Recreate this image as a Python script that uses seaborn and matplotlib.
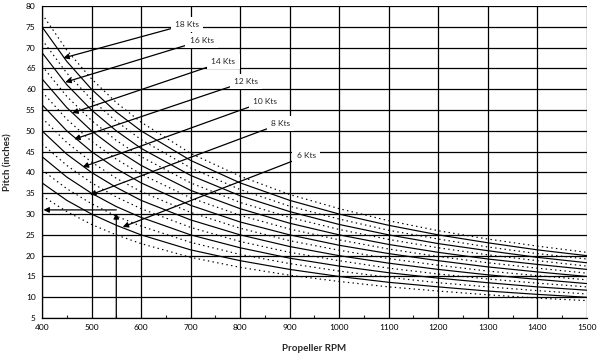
import seaborn as sns
import matplotlib.pyplot as plt
import pandas as pd

# propeller RPM sample points
rpm = [400, 450, 500, 550, 600, 700, 800, 900, 1000, 1100, 1200, 1300, 1400, 1500]

# solid curves (one per speed label), pitch in inches
solid_names = ['18 Kts', '16 Kts', '14 Kts', '12 Kts', '10 Kts', '8 Kts', '6 Kts']
solid_18 = [75.0, 66.7, 60.0, 54.5, 50.0, 42.9, 37.5, 33.3, 30.0, 27.3, 25.0, 23.1, 21.4, 20.0]
solid_16 = [68.8, 61.1, 55.0, 50.0, 45.8, 39.3, 34.4, 30.6, 27.5, 25.0, 22.9, 21.2, 19.6, 18.3]
solid_14 = [62.5, 55.6, 50.0, 45.5, 41.7, 35.7, 31.3, 27.8, 25.0, 22.7, 20.8, 19.2, 17.9, 16.7]
solid_12 = [56.3, 50.0, 45.0, 40.9, 37.5, 32.1, 28.1, 25.0, 22.5, 20.5, 18.8, 17.3, 16.1, 15.0]
solid_10 = [50.0, 44.4, 40.0, 36.4, 33.3, 28.6, 25.0, 22.2, 20.0, 18.2, 16.7, 15.4, 14.3, 13.3]
solid_8 = [43.8, 38.9, 35.0, 31.8, 29.2, 25.0, 21.9, 19.4, 17.5, 15.9, 14.6, 13.5, 12.5, 11.7]
solid_6 = [37.5, 33.3, 30.0, 27.3, 25.0, 21.4, 18.8, 16.7, 15.0, 13.6, 12.5, 11.5, 10.7, 10.0]

# dotted curves in between
dot_1 = [78.1, 69.4, 62.5, 56.8, 52.1, 44.6, 39.1, 34.7, 31.3, 28.4, 26.0, 24.0, 22.3, 20.8]
dot_2 = [71.9, 63.9, 57.5, 52.3, 47.9, 41.1, 35.9, 31.9, 28.8, 26.1, 24.0, 22.1, 20.5, 19.2]
dot_3 = [65.6, 58.3, 52.5, 47.7, 43.8, 37.5, 32.8, 29.2, 26.3, 23.9, 21.9, 20.2, 18.8, 17.5]
dot_4 = [59.4, 52.8, 47.5, 43.2, 39.6, 33.9, 29.7, 26.4, 23.8, 21.6, 19.8, 18.3, 17.0, 15.8]
dot_5 = [53.1, 47.2, 42.5, 38.6, 35.4, 30.4, 26.6, 23.6, 21.3, 19.3, 17.7, 16.3, 15.2, 14.2]
dot_6 = [46.9, 41.7, 37.5, 34.1, 31.3, 26.8, 23.4, 20.8, 18.8, 17.0, 15.6, 14.4, 13.4, 12.5]
dot_7 = [40.6, 36.1, 32.5, 29.5, 27.1, 23.2, 20.3, 18.1, 16.3, 14.8, 13.5, 12.5, 11.6, 10.8]
dot_8 = [34.4, 30.6, 27.5, 25.0, 22.9, 19.6, 17.2, 15.3, 13.8, 12.5, 11.5, 10.6, 9.8, 9.2]

# label text position and arrow head position (rpm, pitch)
label_xy = [(668, 75.6), (698, 71.7), (742, 66.6), (788, 61.9), (826, 57.1), (862, 51.7), (914, 44.0)]
arrow_xy = [(443, 67.5), (447, 61.7), (461, 54.3), (465, 48.0), (482, 41.3), (497, 34.6), (563, 26.9)]

# example reading
example_rpm = 550
example_pitch = 31

solid = [solid_18, solid_16, solid_14, solid_12, solid_10, solid_8, solid_6]
dotted = [dot_1, dot_2, dot_3, dot_4, dot_5, dot_6, dot_7, dot_8]

rows = []
for i, vals in enumerate(solid):
    for r, p in zip(rpm, vals):
        rows.append({'rpm': r, 'pitch': p, 'curve': 's%d' % i, 'kind': 'solid'})
for i, vals in enumerate(dotted):
    for r, p in zip(rpm, vals):
        rows.append({'rpm': r, 'pitch': p, 'curve': 'd%d' % i, 'kind': 'dotted'})
df = pd.DataFrame(rows)

sns.set_style('white')
plt.rcParams['font.family'] = ['Lato', 'DejaVu Sans']

fig, ax = plt.subplots(figsize=(6, 3.55), dpi=100)
fig.subplots_adjust(left=0.07, right=0.978, top=0.983, bottom=0.104)

sns.lineplot(data=df, x='rpm', y='pitch', units='curve', estimator=None,
             style='kind', dashes={'solid': '', 'dotted': (1.2, 2.8)},
             color='black', linewidth=0.85, legend=False, ax=ax, zorder=3)

ax.set_xlim(400, 1500)
ax.set_ylim(5, 80)
ax.set_xticks(range(400, 1501, 100))
ax.set_xticks(range(450, 1500, 100), minor=True)
ax.set_yticks(range(5, 81, 5))
ax.grid(True, which='major', color='black', linewidth=0.9)
ax.set_axisbelow(True)
ax.tick_params(axis='both', which='major', labelsize=6, length=3, width=0.8,
               direction='inout', colors='black', pad=3)
ax.tick_params(axis='x', which='minor', length=2, width=0.8, direction='in',
               bottom=True)
for s in ['top', 'right']:
    ax.spines[s].set_visible(False)
for s in ['left', 'bottom']:
    ax.spines[s].set_color('black')
    ax.spines[s].set_linewidth(0.9)

ax.set_xlabel('Propeller RPM', fontsize=7, fontweight='bold', labelpad=9)
ax.set_ylabel('Pitch (inches)', fontsize=7, fontweight='bold', labelpad=10)

arrow_style = dict(arrowstyle='-|>', color='black', lw=0.9, mutation_scale=8,
                   shrinkA=0, shrinkB=0)
for name, txt, head in zip(solid_names, label_xy, arrow_xy):
    ax.annotate(name, xy=head, xytext=txt, fontsize=6, ha='left', va='center',
                bbox=dict(boxstyle='square,pad=0.5', fc='white', ec='none'),
                arrowprops=arrow_style, zorder=5)

ax.annotate('', xy=(example_rpm, example_pitch - 0.8), xytext=(example_rpm, 5),
            arrowprops=arrow_style, zorder=5)
ax.annotate('', xy=(403, example_pitch), xytext=(example_rpm, example_pitch),
            arrowprops=arrow_style, zorder=5)

plt.savefig('out.png', dpi=100)
